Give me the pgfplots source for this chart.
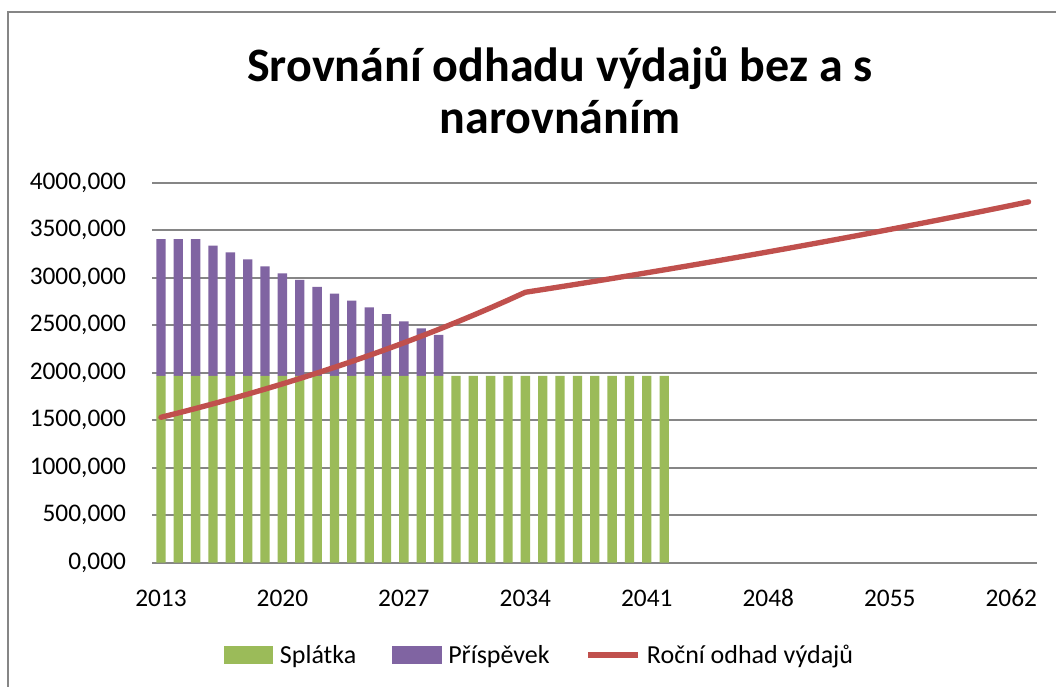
\documentclass[border=0pt]{standalone}
\usepackage{pgfplots}
\pgfplotsset{compat=1.18}
\usepackage{fontspec}
\setmainfont{Carlito}
\definecolor{cgreen}{HTML}{9BBB59}
\definecolor{cpurple}{HTML}{8064A2}
\definecolor{cred}{HTML}{C0504D}
\definecolor{cgrid}{HTML}{868686}

\pgfplotstableread{
x splatka
0 1965
1 1965
2 1965
3 1965
4 1965
5 1965
6 1965
7 1965
8 1965
9 1965
10 1965
11 1965
12 1965
13 1965
14 1965
15 1965
16 1965
17 1965
18 1965
19 1965
20 1965
21 1965
22 1965
23 1965
24 1965
25 1965
26 1965
27 1965
28 1965
29 1965
}\splatka

\pgfplotstableread{
x prispevek
0 1442
1 1442
2 1442
3 1372
4 1302
5 1228
6 1155
7 1081
8 1011
9 937
10 867
11 793
12 723
13 650
14 576
15 502
16 432
}\prispevek

\pgfplotstableread{
x odhad
0 1530.0
1 1575.9
2 1623.2
3 1671.9
4 1722.0
5 1773.7
6 1826.9
7 1881.7
8 1938.2
9 1996.3
10 2056.2
11 2117.9
12 2181.4
13 2246.9
14 2314.3
15 2383.7
16 2455.2
17 2528.9
18 2604.7
19 2682.9
20 2763.4
21 2846.3
22 2874.7
23 2903.5
24 2932.5
25 2961.8
26 2991.4
27 3021.4
28 3051.6
29 3082.1
30 3112.9
31 3144.0
32 3175.5
33 3207.2
34 3239.3
35 3271.7
36 3304.4
37 3337.5
38 3370.8
39 3404.5
40 3438.6
41 3473.0
42 3507.7
43 3542.8
44 3578.2
45 3614.0
46 3650.1
47 3686.6
48 3723.5
49 3760.7
50 3798.3
}\odhad

\begin{document}
\begin{tikzpicture}
\useasboundingbox (0pt,0pt) rectangle (792pt,514.5pt);
\fill[white] (0pt,0pt) rectangle (792pt,514.5pt);
\draw[cgrid, line width=1.2pt] (6pt,-20pt) rectangle (820pt,505.5pt);
\node[font=\bfseries\fontsize{36}{40}\selectfont, anchor=base, inner sep=0pt] at (420pt,453.5pt) {Srovnání odhadu výdajů bez a s};
\node[font=\bfseries\fontsize{36}{40}\selectfont, anchor=base, inner sep=0pt] at (420pt,414.5pt) {narovnáním};

\begin{axis}[
  at={(114.2pt,92.5pt)}, anchor=south west,
  scale only axis, width=663.75pt, height=285pt,
  xmin=-0.5, xmax=50.5, ymin=0, ymax=4000,
  ytick={0,500,...,4000},
  xtick={0,7,...,49},
  xticklabels={2013,2020,2027,2034,2041,2048,2055,2062},
  ymajorgrids, grid style={cgrid, line width=1.3pt},
  major tick length=0pt,
  separate axis lines,
  x axis line style={cgrid, line width=1.3pt},
  y axis line style={draw=none},
  ybar stacked, bar width=7pt,
  /pgf/number format/assume math mode=true,
  yticklabel style={/pgf/number format/fixed, /pgf/number format/fixed zerofill, /pgf/number format/precision=3, /pgf/number format/use comma, /pgf/number format/1000 sep={}, inner sep=0pt, xshift=-19.5pt},
  scaled y ticks=false,
  xticklabel style={inner sep=0pt, anchor=base, yshift=-33pt},
  tick label style={font=\fontsize{19}{22}\selectfont},
  legend style={draw=none, fill=none, at={(0.438,-0.243)}, anchor=center,
    legend columns=3, font=\fontsize{19.5}{22}\selectfont,
    /tikz/every odd column/.append style={column sep=3pt},
    /tikz/every even column/.append style={column sep=25pt}},
  legend cell align=left,
]
\addplot[fill=cgreen, draw=none,
  legend image code/.code={\fill[cgreen] (0pt,-6.5pt) rectangle (37pt,6.5pt);}]
  table[x=x, y=splatka] {\splatka};
\addlegendentry{Splátka}
\addplot[fill=cpurple, draw=none,
  legend image code/.code={\fill[cpurple] (0pt,-6.5pt) rectangle (37pt,6.5pt);}]
  table[x=x, y=prispevek] {\prispevek};
\addlegendentry{Příspěvek}
\addlegendimage{legend image code/.code={\draw[cred, line width=4pt] (0pt,0pt) -- (37pt,0pt);}}
\addlegendentry{Roční odhad výdajů}
\end{axis}

\begin{axis}[
  at={(114.2pt,92.5pt)}, anchor=south west,
  scale only axis, width=663.75pt, height=285pt,
  xmin=-0.5, xmax=50.5, ymin=0, ymax=4000,
  hide axis,
]
\addplot[cred, line width=4pt, line join=round, line cap=round, mark=none, sharp plot]
  table[x=x, y=odhad] {\odhad};
\end{axis}
\end{tikzpicture}
\end{document}
